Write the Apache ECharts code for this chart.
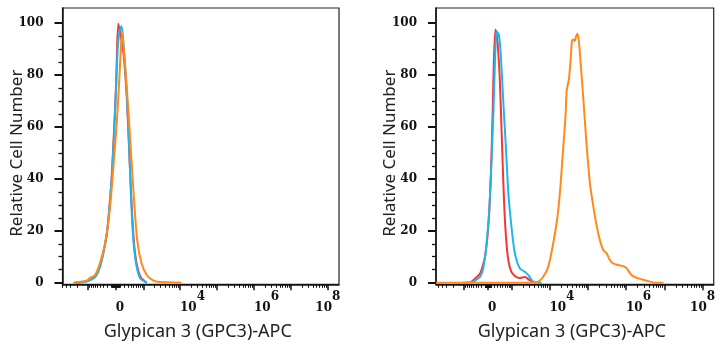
<!DOCTYPE html>
<html>
<head>
<meta charset="utf-8">
<script src="https://cdn.jsdelivr.net/npm/echarts@6/dist/echarts.min.js"></script>
<style>
  html, body { margin: 0; background: #fff; }
  #chart { width: 724px; height: 350px; }
</style>
</head>
<body>
<div id="chart"></div>
<script>
// x values are positions on the biexponential display axis (1 unit = 1 decade in the log part)
const redLeft = [[1.16,0],[1.47,0.6],[1.70,2.3],[1.83,6.1],[1.92,11.3],[2.02,18.9],[2.09,29.1],[2.15,40.6],[2.21,57.2],[2.27,76.4],[2.30,91.7],[2.33,99.6],[2.37,97],[2.42,93],[2.48,87],[2.56,71],[2.62,52],[2.68,33],[2.75,16],[2.83,7],[2.94,2],[3.10,0]];
const cyanLeft = [[1.16,0],[1.47,0.5],[1.70,2.2],[1.83,6],[1.92,11],[2.02,19],[2.09,29],[2.15,40],[2.21,56],[2.27,75],[2.31,89],[2.36,96.5],[2.41,98.7],[2.45,95.5],[2.50,86],[2.56,72.6],[2.62,53.4],[2.67,34.3],[2.73,17.6],[2.81,7.4],[2.92,1.7],[3.10,0]];
const orangeLeft = [[1.11,0],[1.47,0.8],[1.56,1.8],[1.70,3],[1.83,7.5],[1.97,15],[2.10,28],[2.19,43],[2.29,62],[2.36,79],[2.40,91],[2.43,96.2],[2.46,93],[2.56,75],[2.66,53.4],[2.75,33],[2.84,16.4],[2.96,7.4],[3.10,3],[3.28,0.8],[3.46,0.3],[3.73,0.2],[4.04,0]];

const redRight = [[1.93,0],[2.19,3.6],[2.32,10],[2.41,22.7],[2.47,40.6],[2.52,66.2],[2.55,85.3],[2.59,97.4],[2.62,96],[2.66,90],[2.70,80],[2.74,64],[2.78,46],[2.82,30],[2.87,17],[2.93,8.5],[3.00,4.5],[3.10,2.6],[3.23,1.8],[3.36,2.2],[3.49,1.0],[3.63,0]];
const cyanRight = [[1.75,0],[2.01,0.4],[2.19,2.3],[2.28,6.1],[2.36,15.1],[2.43,27.8],[2.49,47],[2.54,66.2],[2.58,85.3],[2.62,96.8],[2.68,95.5],[2.73,87.9],[2.80,68.7],[2.87,50.8],[2.93,34.2],[3.02,20.2],[3.10,11.2],[3.23,5.5],[3.36,4.2],[3.45,2.9],[3.54,1.0],[3.63,0],[3.80,0]];
const orangeRight = [[1.04,0],[3.58,0],[3.71,0.4],[3.84,2.3],[3.97,6.1],[4.10,15.1],[4.21,25.3],[4.28,35.5],[4.35,49.6],[4.42,63.6],[4.45,73.8],[4.51,78.3],[4.56,86.6],[4.59,93],[4.63,93.6],[4.66,93],[4.70,94.9],[4.73,95.8],[4.77,93],[4.82,84],[4.89,70],[4.97,53.4],[5.06,38],[5.15,29.1],[5.24,21.5],[5.32,16.3],[5.41,12.5],[5.50,11.2],[5.58,8.7],[5.67,7.4],[5.80,6.8],[5.93,6.4],[6.02,5.5],[6.15,2.9],[6.32,1.7],[6.54,0.8],[6.76,0],[6.98,0]];

const yMajorTicks = [0, 20, 40, 60, 80, 100];
const yMinorTicks = [5, 10, 15, 25, 30, 35, 45, 50, 55, 65, 70, 75, 85, 90, 95];
const xLabelValues = [0, 1e4, 1e6, 1e8];
const xLabelBase = ["0", "10", "10", "10"];
const xLabelExp = ["", "4", "6", "8"];
const xMajorValues = [-1e3, 0, 1e3, 1e4, 1e5, 1e6, 1e7, 1e8];

const xTitle = "Glypican 3 (GPC3)-APC";
const yTitle = "Relative Cell Number";

const colors = { red: "#f7333c", cyan: "#1db6ea", orange: "#ff8a1c" };

// each panel has its own biex scaling (zero position, linear width, visible range)
const panels = [
  { zero: 2.26, width: 365, min: 0.82, max: 8.3, grid: { left: 62.5, top: 8, width: 276.5, height: 276.3 }, series: [redLeft, cyanLeft, orangeLeft] },
  { zero: 2.40, width: 502, min: 1.04, max: 8.29, grid: { left: 436, top: 8, width: 277.7, height: 276.3 }, series: [redRight, cyanRight, orangeRight] },
];

function toDisplay(v, p) {
  return p.zero + Math.asinh(v / p.width) / Math.LN10;
}

function minorValues() {
  const out = [];
  for (let k = 1; k <= 7; k++) {
    for (let m = 1; m <= 9; m++) {
      const v = m * Math.pow(10, k);
      if (xMajorValues.includes(v)) continue;
      out.push(v);
      if (k <= 3) out.push(-v);
    }
  }
  return out;
}

const axisColor = "#111";
const labelFont = { fontFamily: "DejaVu Serif", fontWeight: "bold", fontSize: 12, color: axisColor };
const titleFont = { fontFamily: "Noto Sans", color: "#222" };
const grids = [];
const xAxes = [];
const yAxes = [];
const series = [];

panels.forEach((p, i) => {
  grids.push({ ...p.grid, show: true, borderColor: "#222", borderWidth: 1.2, outerBoundsMode: "none" });

  const inRange = (u) => u >= p.min && u <= p.max;
  const labelU = xLabelValues.map((v) => toDisplay(v, p));
  const majorU = xMajorValues.map((v) => toDisplay(v, p)).filter(inRange);
  const minorU = minorValues().map((v) => toDisplay(v, p)).filter(inRange);

  xAxes.push({
    type: "value",
    gridIndex: i,
    position: "bottom",
    min: p.min,
    max: p.max,
    axisLine: { show: true, onZero: false, lineStyle: { color: axisColor, width: 1.5 } },
    axisTick: { show: true, customValues: majorU, length: 6, lineStyle: { color: axisColor, width: 1.5 } },
    axisLabel: {
      customValues: labelU,
      margin: 7,
      align: "left",
      alignMaxLabel: "center",
      formatter: (value) => {
        const idx = labelU.findIndex((u) => Math.abs(u - value) < 1e-6);
        if (idx < 0) return "";
        return xLabelExp[idx] ? `{b|${xLabelBase[idx]}}{s|${xLabelExp[idx]}}` : `{b|${xLabelBase[idx]}}`;
      },
      rich: {
        b: { ...labelFont, lineHeight: 34, verticalAlign: "middle" },
        s: { ...labelFont, lineHeight: 14, verticalAlign: "top" },
      },
    },
    splitLine: { show: false },
    name: xTitle,
    nameLocation: "middle",
    nameGap: 39,
    nameMoveOverlap: false,
    nameTextStyle: { ...titleFont, fontSize: 18, padding: [0, 6, 0, 0] },
  });
  xAxes.push({
    type: "value",
    gridIndex: i,
    position: "bottom",
    min: p.min,
    max: p.max,
    axisLine: { show: false, onZero: false },
    axisTick: { show: true, customValues: minorU, length: 3.5, lineStyle: { color: axisColor, width: 1 } },
    axisLabel: { show: false },
    splitLine: { show: false },
  });

  yAxes.push({
    type: "value",
    gridIndex: i,
    position: "left",
    min: -0.6,
    max: 105.7,
    axisLine: { show: true, onZero: false, lineStyle: { color: axisColor, width: 1.5 } },
    axisTick: { show: true, customValues: yMajorTicks, length: 8, lineStyle: { color: axisColor, width: 2 } },
    axisLabel: { customValues: yMajorTicks, margin: 19, ...labelFont },
    splitLine: { show: false },
    name: yTitle,
    nameLocation: "middle",
    nameGap: 37,
    nameMoveOverlap: false,
    nameTextStyle: { ...titleFont, fontSize: 17, padding: [0, 14, 0, 0] },
  });
  yAxes.push({
    type: "value",
    gridIndex: i,
    position: "left",
    min: -0.6,
    max: 105.7,
    axisLine: { show: false, onZero: false },
    axisTick: { show: true, customValues: yMinorTicks, length: 4, lineStyle: { color: axisColor, width: 1.3 } },
    axisLabel: { show: false },
    splitLine: { show: false },
  });

  [colors.red, colors.cyan, colors.orange].forEach((c, j) => {
    series.push({
      type: "line",
      xAxisIndex: i * 2,
      yAxisIndex: i * 2,
      data: p.series[j],
      showSymbol: false,
      smooth: 0.2,
      z: 2 + j,
      lineStyle: { color: c, width: 2 },
      itemStyle: { color: c },
    });
  });
});

const chart = echarts.init(document.getElementById("chart"));
chart.setOption({
  animation: false,
  backgroundColor: "#fff",
  grid: grids,
  xAxis: xAxes,
  yAxis: yAxes,
  series,
});
</script>
</body>
</html>
